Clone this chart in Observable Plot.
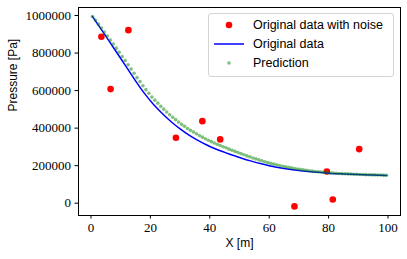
<!DOCTYPE html>
<html>
<head>
<meta charset="utf-8">
<script src="https://cdn.jsdelivr.net/npm/d3@7"></script>
<script src="https://cdn.jsdelivr.net/npm/@observablehq/plot@0.6"></script>
<style>
  html, body { margin: 0; padding: 0; background: #fff; }
  #wrap { position: relative; width: 407px; height: 259px; overflow: hidden; }
  .legend { position: absolute; left: 208px; top: 13px; width: 184px; height: 62px;
            border: 1px solid #d4d4d4; border-radius: 3px; background: rgba(255,255,255,0.85);
            font-family: "Liberation Sans", Arial, sans-serif; font-size: 12.5px; color: #000; }
  .row { position: absolute; left: 0; height: 18px; line-height: 18px; white-space: nowrap; }
  .row svg { position: absolute; left: 4px; top: 0; }
  .row span { position: absolute; left: 44px; top: 0; }
</style>
</head>
<body>
<div id="wrap"></div>
<script>
// Noisy observations
const noisyX = [3.5, 6.6, 12.6, 28.6, 37.5, 43.5, 68.5, 79.4, 81.4, 90.3];
const noisyY = [887000, 608000, 922000, 349000, 437000, 340000, -17000, 169000, 20000, 288000];

// Original (noise-free) curve
const origX = [0.5, 3, 6, 9, 12, 15, 18, 21, 24, 27, 30, 33, 36, 39, 42, 45, 48, 51, 54, 57, 60, 65, 70, 75, 80, 85, 90, 95, 99.5];
const origY = [995000, 937000, 866000, 795000, 724000, 652000, 585000, 527000, 478000, 434000, 396000, 363000, 335000, 310000, 289000, 271000, 254000, 238000, 224000, 211000, 200000, 185000, 174000, 166000, 160000, 156000, 152500, 150000, 148000];

// Prediction dots
const predX = [0.5,1.5,2.5,3.5,4.5,5.5,6.5,7.5,8.5,9.5,10.5,11.5,12.5,13.5,14.5,15.5,16.5,17.5,18.5,19.5,
  20.5,21.5,22.5,23.5,24.5,25.5,26.5,27.5,28.5,29.5,30.5,31.5,32.5,33.5,34.5,35.5,36.5,37.5,38.5,39.5,
  40.5,41.5,42.5,43.5,44.5,45.5,46.5,47.5,48.5,49.5,50.5,51.5,52.5,53.5,54.5,55.5,56.5,57.5,58.5,59.5,
  60.5,61.5,62.5,63.5,64.5,65.5,66.5,67.5,68.5,69.5,70.5,71.5,72.5,73.5,74.5,75.5,76.5,77.5,78.5,79.5,
  80.5,81.5,82.5,83.5,84.5,85.5,86.5,87.5,88.5,89.5,90.5,91.5,92.5,93.5,94.5,95.5,96.5,97.5,98.5,99.5];
const predY = [995000,975000,954000,933000,912000,891000,869000,848000,826000,804000,
  782000,760000,738000,715000,692000,669000,648000,626000,605000,586000,
  566000,549000,533000,516000,501000,486000,471000,458000,445000,432000,
  420000,410000,398000,388000,379000,370000,361000,352000,343000,335000,
  328000,321000,314000,307000,301000,295000,288000,282000,276000,270000,
  264000,258000,252000,247000,241000,236000,231000,226000,221000,216000,
  212000,208000,205000,201000,197000,194000,191000,188000,185000,182000,
  180000,178000,175500,173000,171000,169000,167500,166000,164500,163000,
  161500,160500,159500,158500,157500,156500,156000,155000,154500,154000,
  153000,152500,152000,151500,151000,150800,150300,149900,149400,149000];

const xTicks = [0, 20, 40, 60, 80, 100];
const yTicks = [0, 200000, 400000, 600000, 800000, 1000000];

const noisy = noisyX.map((x, i) => ({x, y: noisyY[i]}));
const orig = origX.map((x, i) => ({x, y: origY[i]}));
const pred = predX.map((x, i) => ({x, y: predY[i]}));

const serif = "'Liberation Serif', 'DejaVu Serif', serif";
const sans = "'Liberation Sans', Arial, sans-serif";

const chart = Plot.plot({
  width: 407,
  height: 259,
  marginLeft: 78,
  marginRight: 7,
  marginTop: 7,
  marginBottom: 44,
  style: {background: "#fff", color: "#000"},
  x: {domain: [-4.2, 104.2]},
  y: {domain: [-65600, 1042700]},
  marks: [
    Plot.axisX({ticks: xTicks, tickSize: 3.5, tickPadding: 4, label: null,
      fontFamily: serif, fontSize: 13, tickFormat: d => String(d)}),
    Plot.axisY({ticks: yTicks, tickSize: 3.5, tickPadding: 4, label: null,
      fontFamily: serif, fontSize: 13, tickFormat: d => String(d)}),
    Plot.dot(noisy, {x: "x", y: "y", r: 3.3, fill: "#ff0000", stroke: null}),
    Plot.line(orig, {x: "x", y: "y", stroke: "#0000ff", strokeWidth: 1.5, curve: "monotone-x"}),
    Plot.dot(pred, {x: "x", y: "y", r: 1.8, fill: "#008000", fillOpacity: 0.5, stroke: null}),
    Plot.frame({stroke: "#000", strokeWidth: 1}),
    Plot.text(["X [m]"], {frameAnchor: "bottom", dy: 31, text: d => d,
      fontFamily: sans, fontSize: 12, fill: "#000"}),
    Plot.text(["Pressure [Pa]"], {frameAnchor: "left", dx: -65, rotate: -90, text: d => d,
      fontFamily: sans, fontSize: 12, fill: "#000"})
  ]
});

const wrap = document.getElementById("wrap");
wrap.appendChild(chart);

// Legend (HTML overlay)
const legendItems = [
  {label: "Original data with noise", kind: "bigdot"},
  {label: "Original data", kind: "line"},
  {label: "Prediction", kind: "smalldot"}
];
const lg = document.createElement("div");
lg.className = "legend";
legendItems.forEach((it, i) => {
  const row = document.createElement("div");
  row.className = "row";
  row.style.top = (2 + i * 19) + "px";
  let sym = "";
  if (it.kind === "bigdot") sym = '<circle cx="16" cy="9" r="3.3" fill="#ff0000"/>';
  if (it.kind === "line") sym = '<line x1="1" x2="31" y1="9" y2="9" stroke="#0000ff" stroke-width="1.5"/>';
  if (it.kind === "smalldot") sym = '<circle cx="16" cy="9" r="1.8" fill="#008000" fill-opacity="0.5"/>';
  row.innerHTML = '<svg width="34" height="18">' + sym + '</svg><span></span>';
  row.querySelector("span").textContent = it.label;
  lg.appendChild(row);
});
wrap.appendChild(lg);
</script>
</body>
</html>
